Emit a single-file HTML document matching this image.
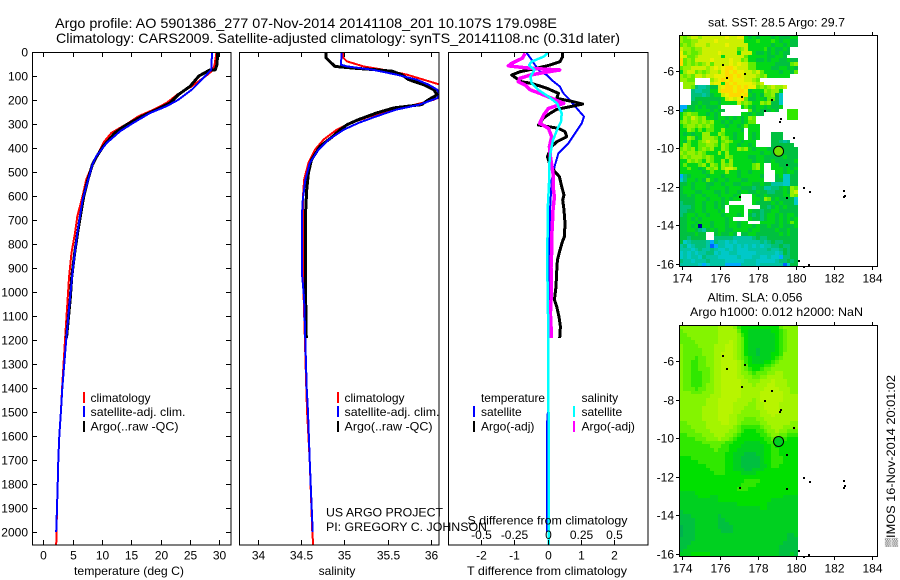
<!DOCTYPE html>
<html><head><meta charset="utf-8"><title>Argo profile</title>
<style>
html,body{margin:0;padding:0;background:#fff;width:900px;height:580px;overflow:hidden}
svg{display:block}
text{font-family:"Liberation Sans",sans-serif;font-size:12px;fill:#000}
.t{font-size:14px}
.f{fill:none;stroke:#000;stroke-width:1}
</style></head><body>
<svg id="fig" width="900" height="580" viewBox="0 0 900 580" xmlns="http://www.w3.org/2000/svg">
<defs>
<clipPath id="c1"><rect x="33" y="52" width="198" height="493"/></clipPath>
<clipPath id="c2"><rect x="240" y="52" width="199" height="493"/></clipPath>
<clipPath id="c3"><rect x="449" y="52" width="199" height="493"/></clipPath>
</defs>
<text class="t" x="55" y="28" textLength="502" lengthAdjust="spacingAndGlyphs">Argo profile: AO 5901386_277 07-Nov-2014 20141108_201 10.107S 179.098E</text>
<text class="t" x="56" y="43" textLength="564" lengthAdjust="spacingAndGlyphs">Climatology: CARS2009. Satellite-adjusted climatology: synTS_20141108.nc (0.31d later)</text>

<g id="p1" clip-path="url(#c1)"></g>
<g id="p2" clip-path="url(#c2)"></g>
<g id="p3" clip-path="url(#c3)"></g>
<g id="axes"></g>
<rect class="f" x="32.5" y="52.5" width="198.5" height="492.5"/>
<rect class="f" x="239.5" y="52.5" width="199.5" height="492.5"/>
<rect class="f" x="448.5" y="52.5" width="199.5" height="492.5"/>

<text x="129" y="575" text-anchor="middle" textLength="110" lengthAdjust="spacingAndGlyphs">temperature (deg C)</text>
<text x="337" y="575" text-anchor="middle">salinity</text>
<text x="547" y="575" text-anchor="middle" textLength="160" lengthAdjust="spacingAndGlyphs">T difference from climatology</text>
<text x="547.5" y="524.5" text-anchor="middle" textLength="160" lengthAdjust="spacingAndGlyphs">S difference from climatology</text>
<text x="326" y="516.5" textLength="117" lengthAdjust="spacingAndGlyphs">US ARGO PROJECT</text>
<text x="326" y="531" textLength="161" lengthAdjust="spacingAndGlyphs">PI: GREGORY C. JOHNSON</text>

<g>
<rect x="83" y="392" width="2" height="11" fill="#f00"/>
<rect x="83" y="406" width="2" height="11" fill="#00f"/>
<rect x="83" y="421" width="2" height="11" fill="#000"/>
<text x="90.5" y="402">climatology</text>
<text x="90.5" y="416" textLength="95" lengthAdjust="spacingAndGlyphs">satellite-adj. clim.</text>
<text x="90.5" y="430.5" textLength="88" lengthAdjust="spacingAndGlyphs">Argo(..raw -QC)</text>
</g>
<g>
<rect x="337" y="392" width="2" height="11" fill="#f00"/>
<rect x="337" y="406" width="2" height="11" fill="#00f"/>
<rect x="337" y="421" width="2" height="11" fill="#000"/>
<text x="344.5" y="402">climatology</text>
<text x="344.5" y="416" textLength="95" lengthAdjust="spacingAndGlyphs">satellite-adj. clim.</text>
<text x="344.5" y="430.5" textLength="88" lengthAdjust="spacingAndGlyphs">Argo(..raw -QC)</text>
</g>
<g>
<text x="481" y="402" textLength="64" lengthAdjust="spacingAndGlyphs">temperature</text>
<text x="581.5" y="402">salinity</text>
<rect x="473" y="406" width="2" height="11" fill="#00f"/>
<rect x="473" y="421" width="2" height="11" fill="#000"/>
<rect x="573" y="406" width="2" height="11" fill="#0ff"/>
<rect x="573" y="421" width="2" height="11" fill="#f0f"/>
<text x="481" y="416">satellite</text>
<text x="481" y="430.5">Argo(-adj)</text>
<text x="581.5" y="416">satellite</text>
<text x="581.5" y="430.5">Argo(-adj)</text>
</g>

<text x="776.5" y="26.5" text-anchor="middle" textLength="137" lengthAdjust="spacingAndGlyphs">sat. SST: 28.5 Argo: 29.7</text>
<text x="755" y="301.5" text-anchor="middle" textLength="95" lengthAdjust="spacingAndGlyphs">Altim. SLA: 0.056</text>
<text x="776.5" y="316" text-anchor="middle" textLength="173" lengthAdjust="spacingAndGlyphs">Argo h1000: 0.012 h2000: NaN</text>
<g id="m1"></g>
<g id="m2"></g>
<text transform="translate(895,547) rotate(-90)" textLength="172" lengthAdjust="spacingAndGlyphs">▒IMOS 16-Nov-2014 20:01:02</text>
</svg>
<script>
// ---- profile data ----
const depthTicks=[0,100,200,300,400,500,600,700,800,900,1000,1100,1200,1300,1400,1500,1600,1700,1800,1900,2000];
const tempTicks=[0,5,10,15,20,25,30];
const salTicks=[34,34.5,35,35.5,36];
const salTickLabels=['34','34.5','35','35.5','36'];
const tDiffTicks=[-2,-1,0,1,2];
const sDiffTicks=[-0.5,-0.25,0,0.25,0.5];
const sDiffTickLabels=['-0.5','-0.25','0','0.25','0.5'];

const tempClimDepth=[0,50,76,100,143,178,212,240,268,300,337,375,435,470,532,600,685,754,837,935,1025,1200,1400,1500,1600,1700,1800,1900,2000,2054];
const tempClimValue=[29.5,29.2,28.9,27.7,25.3,22.8,21,18.8,16.2,14.2,11.6,10.3,9.1,8.35,7.3,6.7,5.8,5.4,4.8,4.4,4.15,3.7,3.2,3,2.73,2.56,2.45,2.33,2.25,2.2];
const tempSatDepth=[0,74,87,115,157,199,226,254,296,330,379,435,470,615,754,893,1025,1200,1400,1500,1600,1700,1800,1900,2000];
const tempSatValue=[28.75,28.6,28.1,27,25.3,23,21,18.2,15.3,13.1,10.8,9,8.35,6.7,5.8,5.1,4.55,3.9,3.24,3,2.73,2.56,2.45,2.33,2.2];
const tempArgoDepth=[0,50,74,76,100,143,178,212,240,268,307,337,393,435,470,532,600,685,754,837,935,1025,1192];
const tempArgoValue=[29.7,29.6,29.3,28.3,26.5,25,23,21.6,19.3,16.8,13.9,12.2,10.2,9.1,8.35,7.6,6.9,6.3,5.85,5.35,4.85,4.6,3.95];

const salClimDepth=[0,25,39,60,74,94,115,136,160,178,199,219,240,268,296,324,365,407,463,532,615,800,1025,1400,1500,1700,2000,2054];
const salClimValue=[34.99,34.99,35.03,35.22,35.45,35.72,35.91,36.1,36.2,36.16,36.03,35.82,35.55,35.3,35.07,34.91,34.76,34.66,34.585,34.535,34.52,34.52,34.53,34.56,34.57,34.6,34.63,34.64];
const salSatDepth=[0,53,60,74,94,115,136,157,178,192,219,240,268,296,324,365,407,463,532,615,685,920,1025,1400,1500,1700,2000];
const salSatValue=[34.97,34.96,35.03,35.33,35.6,35.83,35.97,36.07,36.1,36.07,35.87,35.6,35.37,35.16,34.99,34.82,34.7,34.6,34.55,34.52,34.51,34.51,34.535,34.565,34.58,34.6,34.634];
const salArgoDepth=[0,25,39,60,67,74,80,94,115,136,157,178,199,219,233,254,282,303,324,351,393,449,504,574,685,824,962,1192];
const salArgoValue=[34.79,34.79,34.83,34.89,35.1,35.37,35.55,35.66,35.74,35.91,36.03,36.07,35.97,35.89,35.57,35.37,35.16,35.03,34.95,34.87,34.72,34.62,34.585,34.565,34.55,34.55,34.55,34.56];

const dTSatDepth=[0,33,54,82,96,117,144,172,193,214,242,269,297,339,381,422,471,533,658,900,1200,1450,1550,2000];
const dTSatValue=[-0.65,-0.48,-0.38,-0.23,-0.03,0.12,0.37,0.47,0.62,0.75,0.92,1.09,1.02,0.82,0.62,0.32,0.22,0.12,0.07,0.05,0.03,0.03,-0.02,-0.02];
const dTArgoDepth=[0,19,40,54,68,82,96,106,124,131,151,172,193,207,217,228,239,256,276,304,318,332,353,374,394,436,471,499,519,561,596,617,658,714,769,790,825,867,915,978,1033,1061,1103,1144,1192];
const dTArgoValue=[0.45,0.45,0.37,0.07,-0.33,-0.83,-1.08,-0.98,-0.78,-0.48,-0.03,0.32,0.27,0.77,1.05,0.67,0.27,0.07,-0.13,-0.28,0.32,0.52,0.57,0.27,0.12,-0.01,0.07,0.22,0.35,0.42,0.49,0.45,0.49,0.52,0.5,0.44,0.37,0.29,0.27,0.25,0.2,0.27,0.34,0.38,0.36];
const dSSatDepth=[0,19,40,54,75,103,131,158,186,214,256,290,325,367,422,478,547,658,900,1200,1500,2054];
const dSSatValue=[0.01,-0.03,-0.12,-0.14,-0.1,-0.13,-0.12,-0.07,0.005,0.07,0.105,0.1,0.07,0.04,0.02,0.01,0.01,0,-0.003,0.005,0.006,0.006];
const dSArgoDepth=[6,26,47,58,68,75,86,96,110,124,138,158,172,193,214,235,262,297,318,353,394,436,471,506,561,603,658,714,769,825,900,978,1033,1090,1144,1192];
const dSArgoValue=[-0.17,-0.19,-0.27,-0.295,-0.13,0.09,-0.03,-0.13,-0.21,-0.22,-0.17,-0.13,-0.06,0.03,0.12,0.005,-0.03,-0.06,0.005,0.03,0.0125,0.02,0.03,0.04,0.04,0.05,0.04,0.035,0.03,0.03,0.025,0.025,0.025,0.02,0.025,0.025];

// ---- map data: each row one latitude band, characters are colour levels, '.' = no data ----
const mapLonTicks=[174,176,178,180,182,184];
const mapLatTicks=[-6,-8,-10,-12,-14,-16];
const argoLon=179.098;
const argoLat=-10.107;
const coastLon=[176.1,176.33,177.3,177.1,178.68,178.35,179.15,179.1,179.88,179.5,180.37,180.7,182.47,182.55,182.5,177.03,179.47,180.1,180.4,180.67];
const coastLat=[-5.65,-6.33,-6.12,-7.3,-7.47,-8,-8.45,-8.6,-9.4,-10.8,-12,-12.2,-12.5,-12.4,-12.15,-12.5,-12.55,-15.8,-16.1,-16];
const sstLevels={'0':'#0000a0','1':'#0060ff','2':'#00aaff','3':'#00c8c8','4':'#00c4a4','5':'#00c078','6':'#00c040','7':'#00d818','8':'#30e800','9':'#60ec00','a':'#94f000','b':'#ccf000','c':'#ecf000','d':'#ffd800'};
const slaLevels={'0':'#00b050','1':'#00c040','2':'#00d020','3':'#00e000','4':'#30e800','5':'#60f000','6':'#84f400','7':'#a4f400','8':'#b8f400'};
const sstRows=[
"a9abb abbbb bbcbb cc767 67776 76667 7",
"a99aa bbbbc bbbbb bb777 87778 76776 6",
"9a9ab bbabb bbcbb bbb77 77776 77676 6",
"baa9a abbbb bbbbb 9ab77 77867 6676. .",
"c9a99 abbbb cbbbb 7bbb7 66767 6766. .",
"cb99a bbbbb b7bbb bb977 77766 776.. .",
"d9a9b bbbcb bbbcb b9a77 66767 76676 6",
"d9a9a 9ab9b bbbcb cbb99 77777 66669 a",
"9aabb bbabc bcddc bbb99 77776 67767 6",
"7abb9 a9abb acdcd ccbba b9777 76776 9",
"a9a9b babbc ccddc dcbbb a9a77 7777. .",
"aa99. ...ab cdcdc ccbba 9.... ..... .",
".aaa. ...bc c7dcd ccccb ab... ..... .",
".aa95 44566 bcddc dcdcc 9a9ab aab.. .",
"...54 45577 bdddc ddc67 77a9a a7... .",
"...55 54567 7bcdd dcd76 7699a 63... .",
"...56 66666 67bcb cd966 77699 63... .",
"...66 76677 67777 b9a97 7a9a6 63... .",
"22667 67666 7.... .7976 77676 67... .",
"26767 77767 66... ...96 76667 6..88 8",
"79a99 77676 7.... .7767 66... ...88 8",
"7a9ba 9a776 77676 767a9 ..... ...88 8",
"9a9aa 9a9a7 76767 76799 ..... ..... .",
"79aa9 a9a97 77677 67977 7.... ..... .",
"77a97 97997 7a777 76.77 7.... ..... .",
"76767 7aa77 a9776 77.76 7...6 66... .",
"77a96 7aaa9 7a976 77.76 7...6 66... .",
"76977 9abaa 79a97 76777 ....6 6545. .",
"7a977 99aa9 7a977 67767 ....6 66666 .",
"9a9a7 9a9a7 7a977 a9a76 77766 66666 6",
"a9aa9 a9777 a7a77 77777 76776 66666 6",
"9a9aa a9a97 77a97 77766 77666 66766 6",
"77a9a 97a97 7a7a7 77776 77667 66666 7",
"79777 9a7a9 7a9a7 77779 a7..7 76666 6",
"77977 67a9a 7abba 77779 a7..7 77676 7",
"77777 76797 77a77 67767 77... 77677 6",
"25677 77677 76777 67777 76... 67336 6",
"35776 76976 77677 76677 77... 66336 6",
"66767 77667 76776 67776 67664 44336 6",
"67767 77677 77677 76665 66445 5676a 9",
"67776 67776 67677 67766 76655 6676a b",
"66767 76777 67776 7...7 66766 6677a 9",
"66667 77677 76767 7...7 76a96 76666 3",
"56667 76776 767.. ....7 66667 67666 3",
"55567 76776 76.77 77... .6656 76766 6",
"55667 76777 67.77 77.76 65667 76666 6",
"56776 77677 76777 67.65 65677 67677 6",
"66767 67777 7767. ...76 65677 67676 7",
"66776 77767 77677 677.. .7777 67679 7",
"66767 07767 77677 67776 76676 67666 7",
"66776 54676 77667 77767 76666 76676 6",
"66667 66..6 76676 .6677 66666 67676 6",
"66566 66..5 55554 44445 65566 66666 6",
"63455 55425 44343 44444 45456 55666 6",
"45345 55412 44334 34343 43445 56556 6",
"44434 54454 33434 33344 44454 45656 6",
"34343 44553 43344 33333 44444 34656 6",
"34344 35444 33333 43334 43343 32556 6",
"54434 44544 44333 33444 33333 45565 6",
"44444 32344 44222 24444 34444 44136 6"];
const slaRows=[
"66666 66666 77776 43333 33333 35666 6",
"56666 66666 77777 53322 22223 34566 6",
"55666 66666 77777 64322 22222 34566 6",
"55566 66666 77777 65322 22222 34566 6",
"55556 66666 77787 65322 22222 34566 6",
"65555 66667 77887 65322 22222 34566 6",
"65555 56667 77887 65322 12222 34566 6",
"65555 56667 78887 65322 12223 34666 6",
"65554 55667 78887 65432 22223 45666 6",
"65544 55667 78888 76432 22334 56666 6",
"65544 55667 78888 76533 33445 66666 6",
"65544 55567 78888 76543 34556 66666 6",
"65544 45567 78888 76654 55566 77666 6",
"65544 45567 78888 77665 56677 77666 6",
"65544 45567 78888 87766 67778 77766 6",
"65544 45667 78888 87776 77788 77766 6",
"65554 55667 78888 87777 77888 87776 6",
"66655 56667 78888 87777 78888 88776 6",
"66666 66677 78888 87777 78888 88777 7",
"66666 66777 88888 77776 78888 88777 7",
"66666 66777 88887 77766 77888 87777 7",
"66666 67777 88887 77666 77888 87777 7",
"66666 67777 88887 76666 67788 87777 7",
"66666 67777 88877 66666 67778 77777 7",
"66666 67777 88877 66555 66777 77777 7",
"55666 66777 78877 65555 56677 77776 6",
"55566 66777 77776 54444 45667 77666 6",
"55556 66677 77766 54333 44566 76655 5",
"44555 56667 77665 43333 34456 65544 4",
"44445 55666 76654 33333 33445 54433 3",
"44444 45555 55443 33222 23344 43333 3",
"44444 44455 54433 32222 22334 33333 3",
"44444 44445 44433 22222 22334 43333 3",
"44444 44444 44332 22111 22334 43333 3",
"33344 44444 44332 21111 12334 44333 3",
"33333 44444 44332 21111 12334 44333 3",
"33333 33444 44332 21111 12234 43333 3",
"33333 33344 44332 22112 22333 33333 3",
"33333 33334 44333 32222 33333 33333 3",
"33333 33333 33333 33333 33333 33333 3",
"33333 33333 33333 33444 43333 33333 3",
"33333 33333 33333 34444 33333 33333 3",
"33333 33333 33333 44433 33333 33333 3",
"22223 33333 33333 33333 33333 33333 3",
"22222 33322 33333 33333 33333 33222 2",
"22222 22222 33333 33333 33332 22222 2",
"22222 22222 22222 33333 33322 22222 2",
"22222 22222 22222 22222 23322 22222 2",
"12222 22222 22222 22222 22222 22222 2",
"11122 22222 12222 22222 22222 22222 2",
"11112 22222 11222 22222 22222 22222 2",
"11112 22222 11122 22222 22222 22222 2",
"01112 22222 11112 22222 22222 22222 2",
"01112 22222 21112 22222 22222 22222 2",
"01112 22222 22222 22222 22222 22211 2",
"11112 22222 22222 22222 22222 22211 1",
"11122 22222 22222 22222 22222 22111 1",
"11222 22222 22222 22222 22222 21111 1",
"12222 22222 22222 22222 22222 21111 1",
"22233 33322 22222 22222 22222 21112 1"];

// ---- axis functions ----
const NS='http://www.w3.org/2000/svg';
const depthY=d=>52+d*0.24;
const tempX=t=>43.3+5.87*t;
const salX=s=>257.7+86.7*(s-34);
const dTX=v=>547.7+33.3*v;
const dSX=v=>547.7+133.2*v;
const lonX=lon=>681.7+19*(lon-174);
const sstLatY=lat=>71+19.3*(-6-lat);
const slaLatY=lat=>361.3+19.27*(-6-lat);

function make(tag,parent,attrs){const e=document.createElementNS(NS,tag);for(const k in attrs)e.setAttribute(k,attrs[k]);parent.appendChild(e);return e;}

function drawSeries(parent,name,xf,depths,values,color,width){
  const pts=depths.map((d,i)=>xf(values[i]).toFixed(1)+','+depthY(d).toFixed(1)).join(' ');
  const el=make('polyline',parent,{points:pts,fill:'none',stroke:color,'stroke-width':width,'shape-rendering':'crispEdges','stroke-linejoin':'round'});
  
  
}
const p1=document.getElementById('p1'),p2=document.getElementById('p2'),p3=document.getElementById('p3');
drawSeries(p1,'temperature-climatology-line',tempX,tempClimDepth,tempClimValue,'#f00',2);
drawSeries(p1,'temperature-argo-line',tempX,tempArgoDepth,tempArgoValue,'#000',3);
drawSeries(p1,'temperature-satellite-line',tempX,tempSatDepth,tempSatValue,'#00f',2);
drawSeries(p2,'salinity-climatology-line',salX,salClimDepth,salClimValue,'#f00',2);
drawSeries(p2,'salinity-argo-line',salX,salArgoDepth,salArgoValue,'#000',3);
drawSeries(p2,'salinity-satellite-line',salX,salSatDepth,salSatValue,'#00f',2);
drawSeries(p3,'t-difference-satellite-line',dTX,dTSatDepth,dTSatValue,'#00f',2);
drawSeries(p3,'t-difference-argo-line',dTX,dTArgoDepth,dTArgoValue,'#000',3);
drawSeries(p3,'s-difference-argo-line',dSX,dSArgoDepth,dSArgoValue,'#f0f',3.5);
drawSeries(p3,'s-difference-satellite-line',dSX,dSSatDepth,dSSatValue,'#0ff',2.5);

function tick(parent,x1,y1,x2,y2){
  const el=make('line',parent,{x1:x1,y1:y1,x2:x2,y2:y2,stroke:'#000','stroke-width':1,'shape-rendering':'crispEdges'});
  
  
}
function label(parent,x,y,txt,anchor){
  const el=make('text',parent,{x:x,y:y,'text-anchor':anchor});
  el.textContent=txt;
  
  
}
const axes=document.getElementById('axes');
const px=v=>Math.round(v)+0.5;
depthTicks.forEach(d=>{
  const y=px(depthY(d));
  tick(axes,33,y,37,y);
  tick(axes,226,y,231,y);
  label(axes,28,y+4,String(d),'end');
});
tempTicks.forEach(t=>{
  const x=px(tempX(t));
  tick(axes,x,53,x,57);
  tick(axes,x,540,x,545);
  label(axes,x,559.5,String(t),'middle');
});
salTicks.forEach((s,i)=>{
  const x=px(salX(s));
  tick(axes,x,53,x,57);
  tick(axes,x,540,x,545);
  label(axes,x,559.5,salTickLabels[i],'middle');
});
tDiffTicks.forEach(v=>{
  const x=px(dTX(v));
  tick(axes,x,53,x,57);
  tick(axes,x,540,x,545);
  label(axes,x,559.5,String(v),'middle');
});
sDiffTicks.forEach((v,i)=>{
  label(axes,px(dSX(v)),539,sDiffTickLabels[i],'middle');
});

function drawMap(gid,rows,levels,latY,latStart,argoFill,cellName,top,bottom){
  const g=document.getElementById(gid);
  const lonStart=173.875,lonStep=0.2015,latStep=0.2;
  rows.forEach((row,i)=>{
    const chars=row.replace(/ /g,'');
    const y0=Math.round(latY(latStart-i*latStep)),y1=Math.round(latY(latStart-(i+1)*latStep));
    for(let j=0;j<chars.length;j++){
      const c=chars[j];
      if(c==='.')continue;
      const x0=Math.round(lonX(lonStart+j*lonStep)),x1=Math.round(lonX(lonStart+(j+1)*lonStep));
      const r=make('rect',g,{x:x0,y:y0,width:x1-x0,height:y1-y0,fill:levels[c],'shape-rendering':'crispEdges'});
      
      
    }
  });
  coastLon.forEach((lon,i)=>{
    const d=make('rect',g,{x:Math.round(lonX(lon)),y:Math.round(latY(coastLat[i])),width:2,height:2,fill:'#000','shape-rendering':'crispEdges'});
    
    
  });
  const circ=make('circle',g,{cx:lonX(argoLon),cy:latY(argoLat)+1,r:5,fill:argoFill,stroke:'#000','stroke-width':1});
  
  
  const fr=make('rect',g,{x:679.5,y:top+0.5,width:198,height:bottom-top,fill:'none',stroke:'#000','stroke-width':1,'shape-rendering':'crispEdges'});
  
  
  mapLonTicks.forEach(lon=>{
    const x=px(lonX(lon));
    tick(g,x,top-3,x,top);
    tick(g,x,bottom,x,bottom+4);
    label(g,x,bottom+16.5,String(lon),'middle');
  });
  mapLatTicks.forEach(lat=>{
    const y=px(latY(lat));
    tick(g,676,y,679,y);
    label(g,674,y+4,String(lat),'end');
  });
}
drawMap('m1',sstRows,sstLevels,sstLatY,-4.15,'#70e000','sst-cell',35,266);
drawMap('m2',slaRows,slaLevels,slaLatY,-4.116,'#00d020','sla-cell',325,556);
</script>
</body></html>
